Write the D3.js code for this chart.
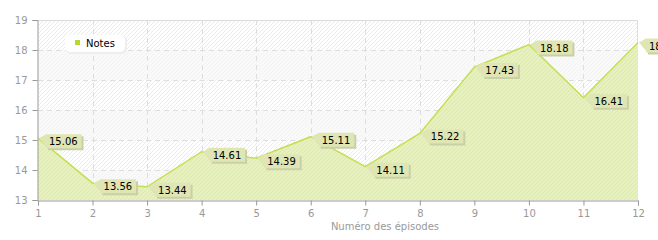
<!DOCTYPE html>
<html><head><meta charset="utf-8">
<script src="https://cdn.jsdelivr.net/npm/d3@7"></script>
<style>body{margin:0;background:#fff}svg{display:block}text{font-family:"DejaVu Sans",Verdana,sans-serif}</style>
</head><body><div id="c"></div>
<script>
const episodes=[1,2,3,4,5,6,7,8,9,10,11,12];
const notes=[15.06,13.56,13.44,14.61,14.39,15.11,14.11,15.22,17.43,18.18,16.41,18.25];
const yTicks=[13,14,15,16,17,18,19];
const seriesName="Notes";
const xTitle="Numéro des épisodes";

const W=658,H=240,m={l:38,r:20,t:20,b:40};
const svg=d3.select("#c").append("svg").attr("width",W).attr("height",H);
const x=d3.scaleLinear().domain([1,12]).range([m.l,W-m.r]);
const y=d3.scaleLinear().domain([13,19]).range([H-m.b,m.t]);
const defs=svg.append("defs");
const hp=defs.append("pattern").attr("id","hatch").attr("patternUnits","userSpaceOnUse").attr("width",4).attr("height",4);
hp.append("path").attr("d","M-1,1 l2,-2 M0,4 l4,-4 M3,5 l2,-2").attr("stroke","#e6e6e6").attr("stroke-width",0.8);
const hp2=defs.append("pattern").attr("id","hatch2").attr("patternUnits","userSpaceOnUse").attr("width",4).attr("height",4);
hp2.append("path").attr("d","M-1,1 l2,-2 M0,4 l4,-4 M3,5 l2,-2").attr("stroke","#d3e196").attr("stroke-width",0.8);

// bands
for(let i=0;i<yTicks.length-1;i++){
  const lo=yTicks[i],hi=yTicks[i+1];
  const g=svg.append("rect").attr("x",x(1)).attr("width",x(12)-x(1)).attr("y",y(hi)).attr("height",y(lo)-y(hi));
  if((19-hi)%2===0){g.attr("fill","url(#hatch)");}
  else{g.attr("fill","#f9f9f9");
    svg.append("rect").attr("x",x(1)).attr("width",x(12)-x(1)).attr("y",y(hi)).attr("height",y(lo)-y(hi)).attr("fill","url(#hatch)").attr("opacity",0.4);}
}
// grid
const grid=svg.append("g").attr("stroke","#dedede").attr("stroke-dasharray","5,4").attr("stroke-width",1);
episodes.slice(1,-1).forEach(e=>grid.append("line").attr("x1",Math.round(x(e))+0.5).attr("x2",Math.round(x(e))+0.5).attr("y1",y(19)).attr("y2",y(13)));
yTicks.slice(1,-1).forEach(t=>grid.append("line").attr("y1",Math.round(y(t))+0.5).attr("y2",Math.round(y(t))+0.5).attr("x1",x(1)).attr("x2",x(12)));
// border
svg.append("line").attr("x1",x(1)).attr("x2",x(12)).attr("y1",y(19)+0.5).attr("y2",y(19)+0.5).attr("stroke","#dddddd");
svg.append("line").attr("x1",x(12)-0.5).attr("x2",x(12)-0.5).attr("y1",y(19)).attr("y2",y(13)).attr("stroke","#dddddd");

// area
const area=d3.area().x((d,i)=>x(episodes[i])).y0(y(13)).y1(d=>y(d));
svg.append("path").datum(notes).attr("d",area).attr("fill","#e6f0b9").attr("opacity",0.95);
svg.append("path").datum(notes).attr("d",area).attr("fill","url(#hatch2)").attr("opacity",0.6);
const line=d3.line().x((d,i)=>x(episodes[i])).y(d=>y(d));
svg.append("path").datum(notes).attr("d",line).attr("fill","none").attr("stroke","#c5df52").attr("stroke-width",1.5);

// axes
const ya=svg.append("g").attr("transform",`translate(${x(1)-0.5},0)`).call(d3.axisLeft(y).tickValues(yTicks).tickSize(5).tickFormat(d3.format("d")));
const xa=svg.append("g").attr("transform",`translate(0,${y(13)+0.5})`).call(d3.axisBottom(x).tickValues(episodes).tickSize(5).tickFormat(d3.format("d")));
[ya,xa].forEach(a=>{a.select(".domain").attr("stroke","#999");a.selectAll(".tick line").attr("stroke","#999");
  a.selectAll("text").attr("fill","#999").style("font-size","10px").style("font-family","DejaVu Sans, sans-serif");});
ya.selectAll("text").attr("x",-10);
xa.selectAll("text").attr("y",9);
svg.append("text").attr("x",439).attr("y",230).attr("text-anchor","end").attr("fill","#999").style("font-size","10px").text(xTitle);

// labels
const lg=svg.append("g");
notes.forEach((v,i)=>{
  const px=x(episodes[i]),py=y(v);
  const txt=v.toFixed(2);
  const tw=txt.length*5.9;
  const bx=px+8,by=py-4,bw=tw+6,bh=14;
  const p=`M${px+1},${py} L${bx},${by} L${bx+bw},${by} L${bx+bw},${by+bh} L${bx},${by+bh} L${bx},${py+8} Z`;
  lg.append("path").attr("d",p).attr("transform","translate(2,2)").attr("fill","#c9cfa6");
  lg.append("path").attr("d",p).attr("fill","#dfe6b4");
  lg.append("text").attr("x",bx+3).attr("y",by+11).attr("fill","#000").style("font-size","10px").text(txt);
});

// legend
const L=svg.append("g");
L.append("rect").attr("x",66).attr("y",36).attr("width",61).attr("height",18).attr("rx",5).attr("fill","#eeeeee");
L.append("rect").attr("x",65).attr("y",35).attr("width",60).attr("height",17).attr("rx",5).attr("fill","#fff");
L.append("rect").attr("x",75).attr("y",40).attr("width",5).attr("height",5).attr("fill","#b5d930");
L.append("text").attr("x",86).attr("y",47).attr("fill","#000").style("font-size","10px").text(seriesName);
</script></body></html>
